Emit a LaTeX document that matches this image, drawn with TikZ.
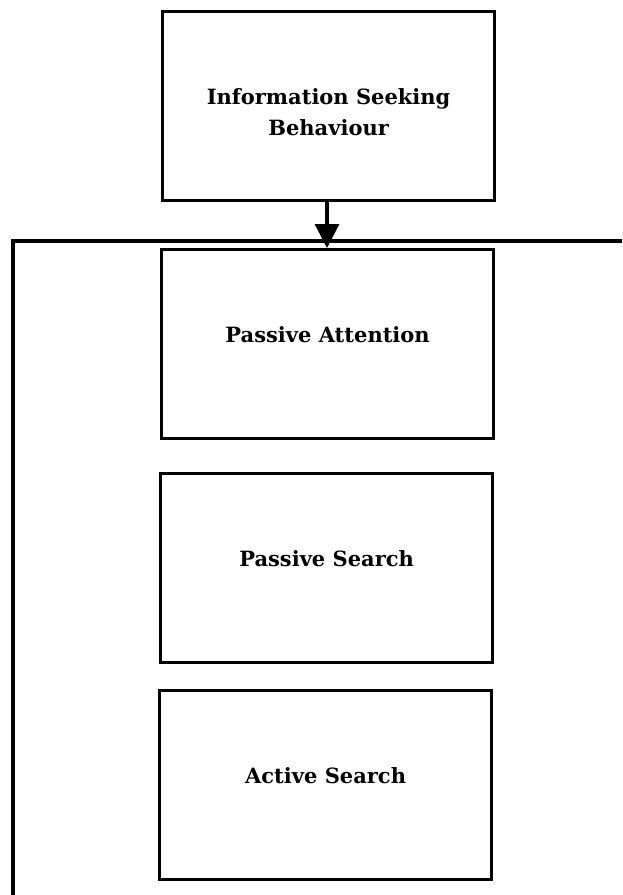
\documentclass[tikz,border=0pt]{standalone}
\usepackage{fontspec}
\setmainfont{DejaVu Serif}
\usetikzlibrary{arrows.meta}
\begin{document}
\begin{tikzpicture}[x=1pt,y=-1pt,
  stagebox/.style={draw=black,line width=3.2pt,minimum width=332pt,minimum height=189pt,
    anchor=north west,inner sep=0pt},
  caption/.style={font=\bfseries\fontsize{21}{31}\selectfont,align=center,inner sep=0pt},
  link/.style={line width=3.2pt,black}]
  \useasboundingbox (0,0) rectangle (622,895);
  \node[stagebox,label={[caption,yshift=-7pt]center:Information Seeking\\Behaviour}] (isb) at (161,9.5) {};
  \node[stagebox,label={[caption,yshift=9pt]center:Passive Attention}] (pa) at (160,248) {};
  \node[stagebox,label={[caption,yshift=9pt]center:Passive Search}] (ps) at (159,472) {};
  \node[stagebox,label={[caption,yshift=9pt]center:Active Search}] (as) at (158,689) {};
  % bracket enclosing the three stages
  \coordinate (brTop) at (13,241);
  \coordinate (brEnd) at (622,241);
  \coordinate (brBot) at (13,895);
  \draw[link] (brBot) -- (brTop) -- (brEnd);
  \draw[link,-{Triangle[width=24pt,length=24pt]}] (isb.south -| 327,0) -- (pa.north -| 327,0);
\end{tikzpicture}
\end{document}
